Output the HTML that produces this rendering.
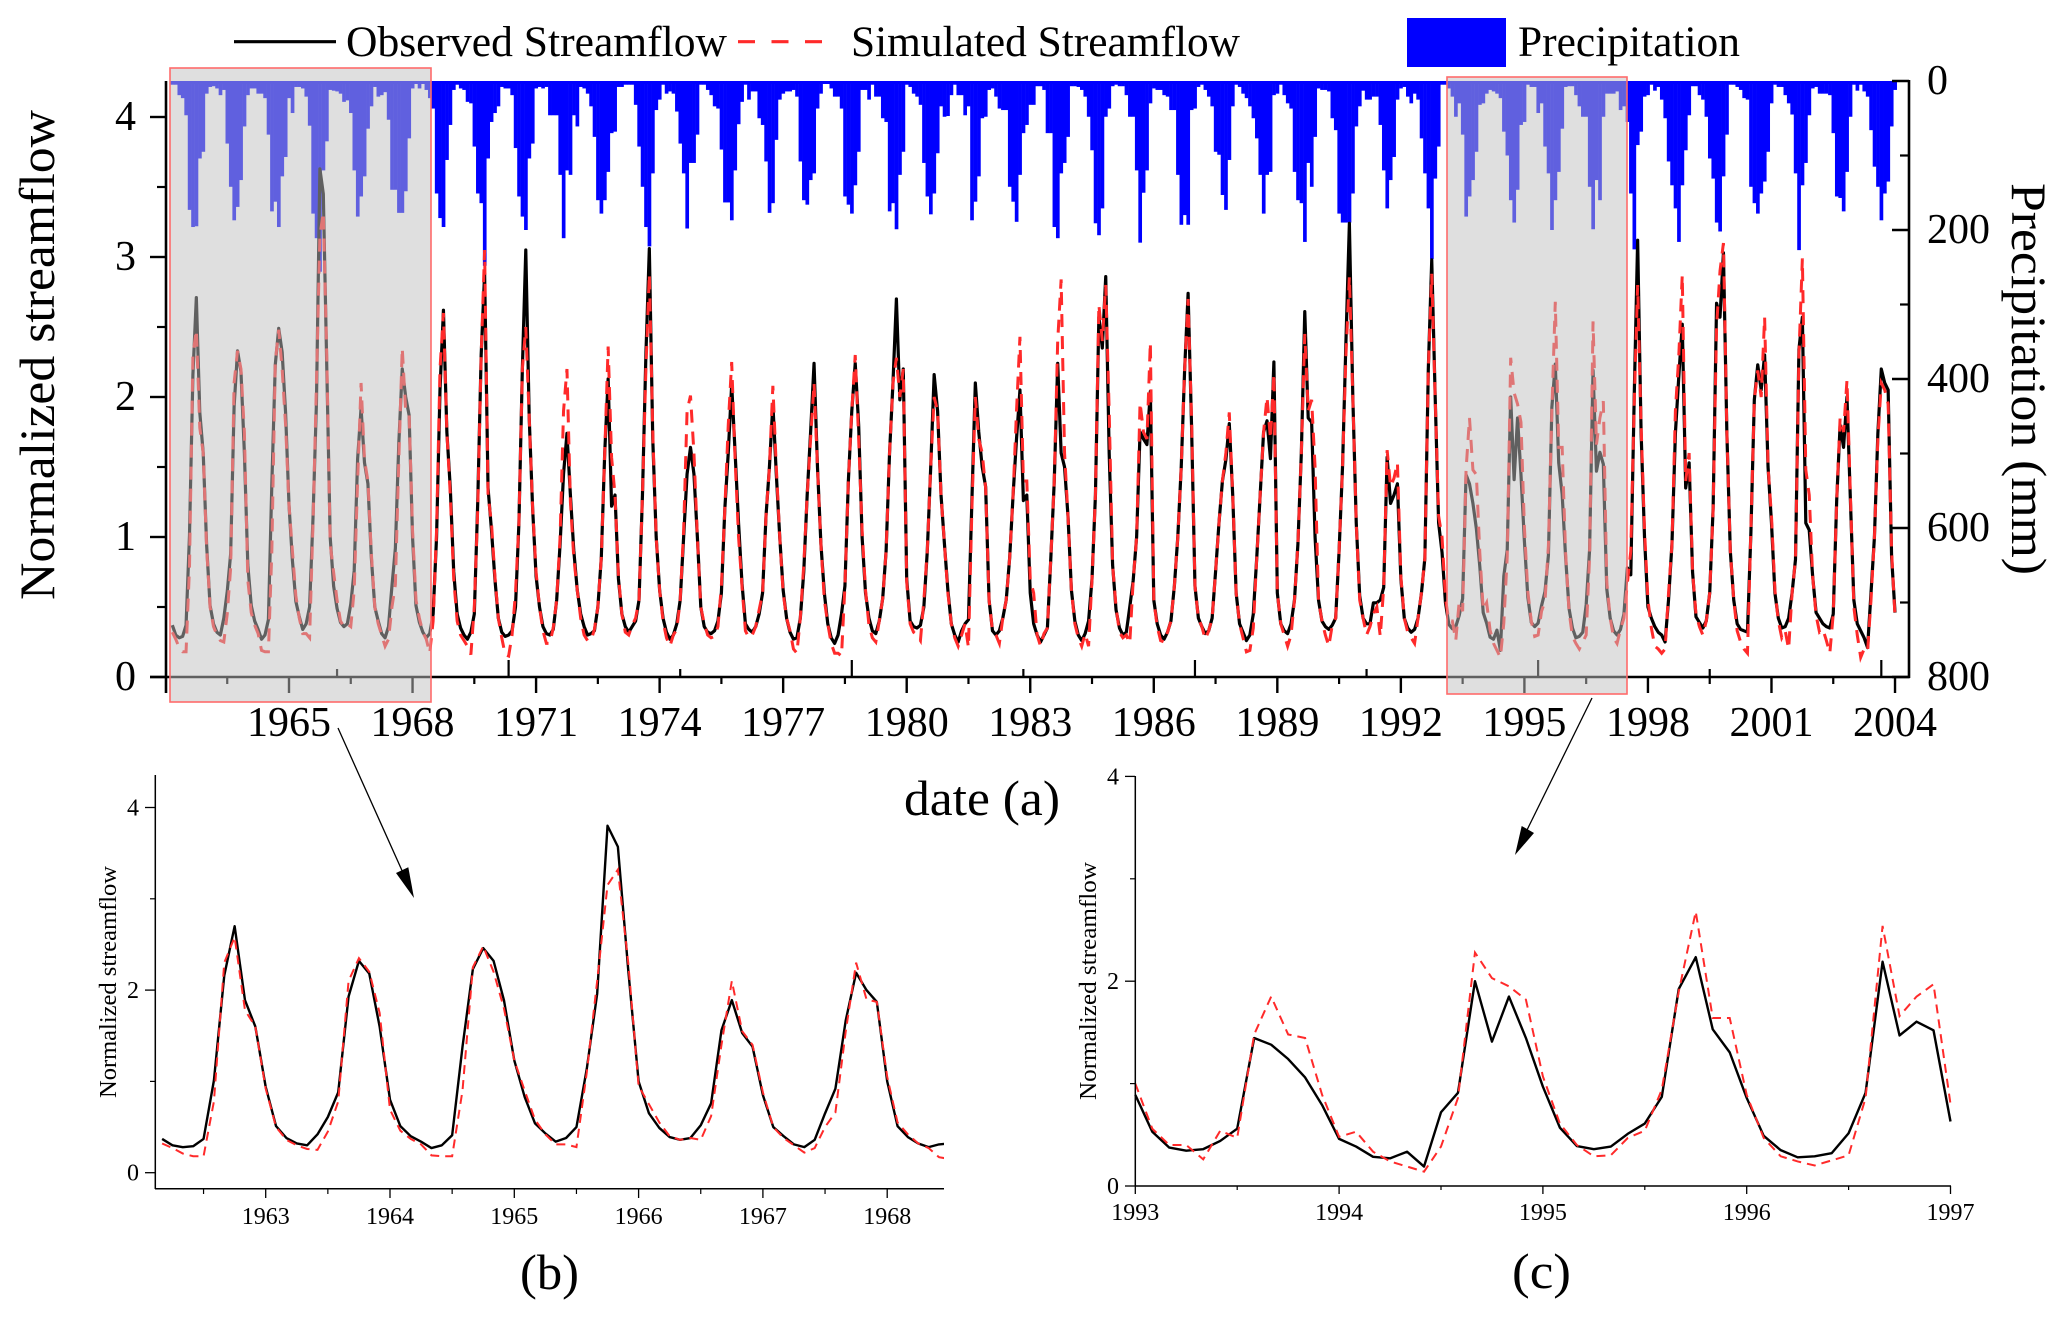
<!DOCTYPE html>
<html lang="en">
<head>
<meta charset="utf-8">
<title>Normalized streamflow and precipitation</title>
<style>
html,body{margin:0;padding:0;background:#fff;}
svg{display:block;font-family:"Liberation Serif","Times New Roman",serif;}
</style>
</head>
<body>
<svg id="figure" xmlns="http://www.w3.org/2000/svg" width="2067" height="1319" viewBox="0 0 2067 1319">
  <rect x="0" y="0" width="2067" height="1319" fill="#fff"/>
  <defs>
    <clipPath id="clipB"><rect x="155" y="775" width="789" height="414"/></clipPath>
  </defs>
  <g id="mainPrecip"></g>
  <g id="mainLines"></g>
  <g id="mainAxes"></g>
  <rect x="170" y="68" width="261" height="634" fill="rgba(192,192,192,.5)" stroke="#ff6b6b" stroke-width="1.6"/>
  <rect x="1447" y="77" width="180" height="617" fill="rgba(192,192,192,.5)" stroke="#ff6b6b" stroke-width="1.6"/>

  <line x1="234" y1="41.7" x2="336" y2="41.7" stroke="#000" stroke-width="3.2"/>
  <text x="346" y="56" font-size="43" textLength="381" lengthAdjust="spacingAndGlyphs">Observed Streamflow</text>
  <line x1="738" y1="41.7" x2="822" y2="41.7" stroke="#ff2a2a" stroke-width="3.2" stroke-dasharray="17 16.5"/>
  <text x="851" y="56" font-size="43" textLength="389" lengthAdjust="spacingAndGlyphs">Simulated Streamflow</text>
  <rect x="1407" y="18" width="99" height="49" fill="#0000ff"/>
  <text x="1518" y="56" font-size="43" textLength="222" lengthAdjust="spacingAndGlyphs">Precipitation</text>

  <text transform="translate(54,600) rotate(-90)" font-size="50" textLength="490" lengthAdjust="spacingAndGlyphs">Normalized streamflow</text>
  <text transform="translate(2012,183) rotate(90)" font-size="50" textLength="392" lengthAdjust="spacingAndGlyphs">Precipitation (mm)</text>
  <text x="904" y="815" font-size="50" textLength="156" lengthAdjust="spacingAndGlyphs">date (a)</text>

  <g>
    <line x1="338" y1="728" x2="404" y2="875" stroke="#000" stroke-width="1.3"/>
    <polygon points="414,898 396,873 408.3,867.3" fill="#000"/>
  </g>
  <g>
    <line x1="1592" y1="698" x2="1527" y2="830" stroke="#000" stroke-width="1.3"/>
    <polygon points="1515,855 1521.7,826 1534,833" fill="#000"/>
  </g>

  <g id="panelB"></g>
  <text transform="translate(116,1098) rotate(-90)" font-size="24" textLength="232" lengthAdjust="spacingAndGlyphs">Normalized streamflow</text>
  <text x="520" y="1289" font-size="50" textLength="59" lengthAdjust="spacingAndGlyphs">(b)</text>

  <g id="panelC"></g>
  <text transform="translate(1096,1100) rotate(-90)" font-size="24" textLength="238" lengthAdjust="spacingAndGlyphs">Normalized streamflow</text>
  <text x="1512" y="1288" font-size="50" textLength="59" lengthAdjust="spacingAndGlyphs">(c)</text>
</svg>
<script>
/* ---------- main chart data: rows are years, Jan..Dec; first row starts March 1962 ---------- */
const firstYear = 1962;
const firstMonth = 2;
const observedRows = [
[.37,.30,.28,.29,.37,1.01,2.16,2.71,1.89,1.60],
[.94,.51,.38,.32,.30,.42,.61,.88,1.93,2.33,2.18,1.60],
[.80,.51,.40,.34,.27,.30,.41,1.38,2.23,2.49,2.32,1.89],
[1.23,.83,.54,.43,.34,.38,.50,1.14,1.96,3.63,3.45,2.22],
[1.0,.65,.49,.39,.36,.38,.52,.76,1.56,1.92,1.53,1.38],
[.85,.50,.40,.31,.28,.36,.65,.92,1.67,2.2,2.0,1.87],
[1.0,.51,.39,.32,.28,.31,.45,1.0,2.05,2.62,1.75,1.35],
[.75,.45,.35,.30,.27,.32,.45,1.25,2.3,2.88,1.35,1.05],
[.7,.42,.32,.29,.30,.33,.5,1.1,2.2,3.05,1.85,1.2],
[.72,.5,.36,.31,.30,.34,.55,.95,1.45,1.74,1.3,.9],
[.62,.45,.36,.30,.31,.33,.5,.85,1.6,2.13,1.22,1.3],
[.7,.45,.36,.32,.36,.4,.55,1.3,2.3,3.06,1.7,1.0],
[.62,.42,.32,.27,.30,.38,.55,1.0,1.45,1.64,1.45,1.0],
[.5,.36,.32,.31,.33,.4,.6,1.2,1.6,2.09,1.6,1.1],
[.67,.38,.34,.32,.36,.45,.6,1.15,1.5,1.95,1.45,1.0],
[.62,.42,.32,.27,.28,.42,.75,1.3,1.75,2.24,1.5,.95],
[.6,.38,.28,.24,.3,.45,.65,1.4,1.9,2.24,1.8,1.0],
[.6,.42,.33,.31,.4,.56,.9,1.6,2.1,2.7,1.98,2.2],
[.7,.4,.36,.35,.37,.5,.9,1.5,2.16,1.9,1.3,.95],
[.62,.38,.3,.25,.33,.38,.41,1.26,2.1,1.75,1.5,1.36],
[.55,.33,.3,.33,.42,.55,.85,1.3,1.7,2.05,1.26,1.3],
[.6,.38,.3,.25,.3,.35,.85,1.4,2.24,1.6,1.5,1.15],
[.62,.4,.3,.26,.31,.4,.7,1.3,2.57,2.35,2.86,1.6],
[.8,.48,.35,.3,.32,.5,.69,1.0,1.75,1.7,1.66,2.04],
[.55,.38,.3,.27,.32,.4,.65,1.0,1.5,2.2,2.74,1.8],
[.65,.42,.36,.31,.33,.42,.75,1.1,1.4,1.55,1.81,1.3],
[.6,.38,.32,.26,.3,.45,.85,1.3,1.75,1.83,1.56,2.25],
[.6,.38,.33,.31,.38,.55,.95,1.6,2.61,1.85,1.82,1.0],
[.55,.4,.36,.34,.37,.42,.9,1.5,2.4,3.24,2.0,1.1],
[.58,.42,.38,.38,.53,.53,.55,.64,1.57,1.24,1.3,1.38],
[.7,.42,.35,.32,.34,.42,.6,.85,2.2,2.98,2.0,1.1],
[.89,.53,.375,.345,.36,.44,.56,1.445,1.38,1.24,1.06,.79],
[.46,.385,.285,.27,.335,.19,.72,.91,2.0,1.41,1.85,1.445],
[.97,.57,.39,.36,.385,.51,.61,.87,1.925,2.235,1.53,1.305],
[.86,.49,.35,.28,.29,.32,.515,.91,2.19,1.47,1.605,1.52],
[.63,.42,.33,.3,.34,.45,.78,.73,2.0,3.12,1.75,1.0],
[.5,.42,.36,.32,.3,.25,.55,.95,1.74,2.15,2.52,1.35],
[1.53,.75,.43,.39,.35,.4,.6,1.21,2.67,2.57,3.03,1.74],
[.9,.55,.38,.34,.33,.32,1.03,1.98,2.23,2.05,2.3,1.5],
[1.1,.6,.42,.35,.36,.42,.6,.84,2.34,2.57,1.1,1.05],
[.72,.46,.42,.38,.36,.35,.45,1.26,1.8,1.64,2.0,1.26],
[.55,.38,.33,.28,.21,.6,1.0,1.74,2.2,2.1,2.05,.86],
[.46]
];
const simulatedRows = [
[.32,.27,.21,.18,.18,.78,2.3,2.48,1.78,1.6],
[.92,.5,.36,.3,.26,.25,.45,.78,2.1,2.33,2.2,1.75],
[.69,.46,.37,.31,.19,.18,.18,.9,2.25,2.48,2.2,1.8],
[1.23,.9,.58,.42,.31,.31,.28,1.1,2.1,3.15,3.32,2.3],
[.95,.75,.55,.4,.36,.38,.36,.62,1.4,2.1,1.55,1.4],
[.88,.5,.38,.3,.22,.27,.5,.66,1.55,2.35,1.9,1.87],
[1.05,.55,.42,.32,.27,.17,.4,1.05,2.2,2.6,1.75,1.3],
[.7,.4,.3,.26,.22,.16,.5,1.2,2.3,3.05,1.3,1.1],
[.72,.42,.28,.16,.15,.3,.6,1.1,2.2,2.5,1.85,1.2],
[.75,.5,.33,.24,.24,.35,.55,1.0,1.9,2.2,1.25,.85],
[.62,.42,.3,.26,.26,.34,.5,.85,1.6,2.36,1.57,1.3],
[.72,.45,.32,.3,.37,.42,.55,1.3,2.2,2.88,1.75,1.0],
[.62,.4,.28,.22,.3,.34,.55,1.05,1.9,2.01,1.6,1.0],
[.5,.38,.3,.28,.29,.36,.65,1.2,1.8,2.25,1.55,1.0],
[.65,.33,.28,.3,.36,.48,.6,1.15,1.5,2.08,1.5,1.0],
[.6,.42,.33,.2,.17,.42,.8,1.3,1.7,2.1,1.5,.95],
[.55,.38,.24,.17,.17,.15,.65,1.4,1.9,2.3,1.7,1.05],
[.62,.37,.28,.25,.4,.56,.9,1.6,2.1,2.28,2.0,2.2],
[.68,.38,.32,.3,.26,.55,.9,1.5,2.0,1.9,1.3,.95],
[.6,.38,.28,.22,.3,.38,.21,1.2,2.0,1.7,1.6,1.35],
[.55,.33,.3,.24,.42,.55,.85,1.3,1.9,2.43,1.4,1.4],
[.7,.6,.3,.22,.31,.35,.85,1.4,2.4,2.84,1.6,1.15],
[.62,.38,.28,.22,.31,.22,.7,1.3,2.66,2.4,2.8,1.9],
[.8,.5,.32,.28,.3,.24,.69,1.0,1.96,1.75,1.7,2.39],
[.55,.36,.26,.25,.32,.4,.65,1.0,1.5,2.2,2.7,1.85],
[.65,.42,.36,.27,.33,.42,.75,1.1,1.4,1.6,1.89,1.3],
[.6,.38,.28,.18,.19,.35,.85,1.3,1.75,2.0,1.7,2.17],
[.6,.38,.3,.22,.3,.55,.95,1.6,2.45,1.9,1.98,1.5],
[.55,.4,.3,.22,.37,.42,.9,1.5,2.3,2.86,2.0,1.1],
[.55,.42,.3,.36,.45,.5,.29,.64,1.62,1.36,1.42,1.53],
[.72,.42,.32,.28,.24,.42,.6,.85,2.2,2.88,2.0,1.15],
[1.0,.56,.4,.4,.26,.54,.47,1.48,1.85,1.48,1.445,.89],
[.48,.53,.335,.24,.19,.14,.385,.86,2.28,2.03,1.95,1.82],
[1.07,.61,.4,.29,.3,.47,.54,.94,1.9,2.68,1.64,1.64],
[.89,.47,.29,.24,.2,.25,.3,.86,2.54,1.66,1.85,1.97],
[.68,.42,.28,.24,.34,.42,.67,.9,1.95,2.8,1.8,1.05],
[.55,.35,.22,.2,.17,.2,.6,.95,1.9,2.3,2.87,1.4],
[1.6,.75,.45,.36,.3,.4,.6,1.2,2.5,2.9,3.1,1.75],
[.9,.55,.33,.25,.2,.17,1.05,1.98,2.19,2.0,2.57,1.5],
[1.15,.62,.4,.28,.33,.2,.6,.84,2.3,2.99,1.48,1.3],
[.72,.44,.32,.34,.26,.17,.45,1.26,1.85,1.75,2.12,1.3],
[.5,.3,.14,.2,.18,.55,1.0,1.7,2.1,2.05,1.95,.9],
[.43]
];
const precipitationRows = [
[5,5,19,23,46,173,196,195,104,95],
[17,8,7,10,19,12,84,142,187,169,133,61],
[19,10,10,17,17,23,72,175,162,196,128,102],
[23,43,8,8,10,21,60,178,211,256,120,81],
[12,13,14,17,28,26,43,120,182,155,128,64],
[34,8,21,19,15,52,146,146,177,177,148,77],
[10,3,10,3,12,23,37,151,184,196,106,59],
[12,5,10,12,28,30,88,151,164,248,104,55],
[43,34,8,10,10,19,90,155,182,200,104,84],
[10,8,10,8,46,46,46,126,211,120,126,46],
[61,8,10,17,34,75,160,178,160,122,70,68],
[8,8,5,5,5,32,88,142,196,222,124,39],
[25,5,17,14,17,41,84,124,198,110,110,72],
[5,5,12,19,34,37,92,163,163,187,120,58],
[28,5,25,14,14,50,59,108,177,164,79,25],
[17,14,14,12,21,108,160,166,133,124,37,17],
[3,3,10,21,21,37,155,166,178,140,95,12],
[12,25,5,21,21,50,55,175,164,199,126,95],
[5,8,17,21,32,110,155,179,151,97,34,48],
[47,19,5,19,19,46,34,187,162,128,50,48],
[12,10,21,37,39,39,142,162,189,126,70,59],
[32,32,7,7,12,70,70,196,211,124,110,75],
[7,7,8,12,21,48,93,191,207,171,48,37],
[7,5,7,7,19,48,48,120,217,150,120,30],
[10,12,12,19,21,39,39,126,193,180,193,39],
[37,8,5,12,21,34,95,99,153,173,106,34],
[5,8,17,23,34,50,77,126,178,126,122,19],
[17,5,19,30,37,122,160,164,216,110,142,75],
[10,12,12,14,50,66,178,190,190,190,151,61],
[34,13,25,25,21,21,59,120,171,133,102,25],
[10,8,21,30,17,25,77,124,171,239,131,88],
[5,5,10,21,48,30,72,182,155,133,95,32],
[30,17,12,14,17,23,68,100,160,190,146,59],
[55,5,8,8,43,30,88,124,200,160,122,64],
[8,7,7,19,34,48,48,142,199,133,160,48],
[17,17,17,14,39,34,55,151,226,86,68,21],
[19,5,13,8,25,50,108,140,171,216,140,93],
[46,7,7,19,25,48,104,131,190,202,128,72],
[5,5,8,12,23,25,142,164,178,151,135,95],
[30,5,8,8,19,30,45,124,227,140,110,46],
[10,8,17,17,17,19,70,155,157,175,122,48],
[5,13,5,14,21,66,115,142,187,151,135,61],
[12]
];
const mainYearTicks = [1965,1968,1971,1974,1977,1980,1983,1986,1989,1992,1995,1998,2001,2004];
const mainMinorYearTicks = [1963.5,1966.5,1969.5,1972.5,1975.5,1978.5,1981.5,1984.5,1987.5,1990.5,1993.5,1996.5,1999.5,2002.5];
const streamflowTicks = [0,1,2,3,4];
const streamflowMinorTicks = [.5,1.5,2.5,3.5];
const precipitationTicks = [0,200,400,600,800];
const precipitationMinorTicks = [100,300,500,700];
const categoryTickYears = [1966.167,1970.333,1974.5,1978.667,1982.833,1987,1991.167,1995.333,1999.5,2003.667];
const categoryTickLong = [0,1,0,1,0,1,0,1,0,1];

/* ---------- panel (b): March 1962 .. July 1968 ---------- */
const panelBStart = 1962 + 2/12;
const panelBObserved = [.37,.30,.28,.29,.37,1.01,2.16,2.70,1.89,1.60,.94,.51,.38,.32,.30,.42,.61,.88,1.93,2.32,2.18,1.60,.80,.51,.40,.34,.27,.30,.41,1.38,2.23,2.46,2.32,1.89,1.23,.83,.54,.43,.34,.38,.50,1.14,1.96,3.80,3.57,2.22,1.0,.65,.49,.39,.36,.38,.52,.76,1.56,1.89,1.53,1.38,.85,.50,.40,.31,.28,.36,.65,.92,1.67,2.19,2.0,1.87,1.0,.51,.39,.32,.28,.31,.32];
const panelBSimulated = [.32,.27,.21,.18,.18,.78,2.3,2.58,1.78,1.6,.92,.5,.36,.3,.26,.25,.45,.78,2.1,2.35,2.2,1.75,.69,.46,.37,.31,.19,.18,.18,.9,2.25,2.48,2.2,1.8,1.23,.9,.58,.42,.31,.31,.28,1.1,2.1,3.15,3.32,2.3,.95,.75,.55,.4,.36,.38,.36,.62,1.4,2.1,1.55,1.4,.88,.5,.38,.3,.22,.27,.5,.66,1.55,2.3,1.9,1.87,1.05,.55,.42,.32,.27,.17,.15];
const panelBYearTicks = [1963,1964,1965,1966,1967,1968];
const panelBMinorTicks = [1962.5,1963.5,1964.5,1965.5,1966.5,1967.5];
const panelBValueTicks = [0,2,4];
const panelBValueMinorTicks = [1,3];

/* ---------- panel (c): January 1993 .. January 1997 ---------- */
const panelCStart = 1993;
const panelCObserved = [.89,.53,.375,.345,.36,.44,.56,1.445,1.38,1.24,1.06,.79,.46,.385,.285,.27,.335,.19,.72,.91,2.0,1.41,1.85,1.445,.97,.57,.39,.36,.385,.51,.61,.87,1.925,2.235,1.53,1.305,.86,.49,.35,.28,.29,.32,.515,.91,2.19,1.47,1.605,1.52,.63];
const panelCSimulated = [1.0,.56,.4,.4,.26,.54,.47,1.48,1.85,1.48,1.445,.89,.48,.53,.335,.24,.19,.14,.385,.86,2.28,2.03,1.95,1.82,1.07,.61,.4,.29,.3,.47,.54,.94,1.9,2.68,1.64,1.64,.89,.47,.29,.24,.2,.25,.3,.86,2.54,1.66,1.85,1.97,.8];
const panelCYearTicks = [1993,1994,1995,1996,1997];
const panelCMinorTicks = [1993.5,1994.5,1995.5,1996.5];
const panelCValueTicks = [0,2,4];
const panelCValueMinorTicks = [1,3];

/* ---------- axis functions ---------- */
const xMain = t => 289 + (t - 1965) * 41.18;
const yMain = v => 677 - 140 * v;
const yPrecip = p => 81 + 0.745 * p;
const xB = t => 265.7 + (t - 1963) * 124.3;
const yB = v => 1172.7 - 91.3 * v;
const xC = t => 1135.3 + (t - 1993) * 203.8;
const yC = v => 1186 - 102.4 * v;

const NS = 'http://www.w3.org/2000/svg';
function mk(parent, tag, attrs, text) {
  const el = document.createElementNS(NS, tag);
  for (const k in attrs) el.setAttribute(k, attrs[k]);
  if (text !== undefined) el.textContent = text;
  parent.appendChild(el);
  return el;
}
function seriesFromRows(rows) {
  const pts = [];
  rows.forEach((row, r) => {
    const offset = r === 0 ? firstMonth : 0;
    row.forEach((v, i) => pts.push({t: firstYear + r + (i + offset) / 12, v: v}));
  });
  return pts;
}
function seriesFromFlat(start, values) {
  return values.map((v, i) => ({t: start + i / 12, v: v}));
}
function pathOf(points, xs, ys) {
  return points.map((p, i) => (i ? 'L' : 'M') + xs(p.t).toFixed(2) + ' ' + ys(p.v).toFixed(2)).join(' ');
}
function tickLine(parent, x1, y1, x2, y2, w) {
  const el = mk(parent, 'line', {x1: x1, y1: y1, x2: x2, y2: y2, stroke: '#000', 'stroke-width': w});
  
  
  return el;
}
function label(parent, x, y, size, anchor, str) {
  const el = mk(parent, 'text', {x: x, y: y, 'font-size': size, 'text-anchor': anchor}, str);
  
  
  return el;
}

/* ---------- main chart ---------- */
const gPrecip = document.getElementById('mainPrecip');
const monthWidth = 41.18 / 12;
seriesFromRows(precipitationRows).forEach(p => {
  const bar = mk(gPrecip, 'rect', {
    x: (xMain(p.t) - monthWidth / 2).toFixed(2),
    y: yPrecip(0),
    width: (monthWidth + 0.25).toFixed(2),
    height: (yPrecip(p.v) - yPrecip(0)).toFixed(2),
    fill: '#0000ff'
  });
  
  
});
const topBand = mk(gPrecip, 'rect', {x: xMain(firstYear + firstMonth / 12) - monthWidth / 2, y: 81, width: xMain(2004) - xMain(firstYear + firstMonth / 12) + monthWidth, height: 3, fill: '#0000ff'});



const gLines = document.getElementById('mainLines');
const obsPath = mk(gLines, 'path', {d: pathOf(seriesFromRows(observedRows), xMain, yMain), fill: 'none', stroke: '#000', 'stroke-width': 3.2, 'stroke-linejoin': 'round'});


const simPath = mk(gLines, 'path', {d: pathOf(seriesFromRows(simulatedRows), xMain, yMain), fill: 'none', stroke: '#ff2a2a', 'stroke-width': 3, 'stroke-dasharray': '13 9'});



const gAxes = document.getElementById('mainAxes');
const leftAxis = mk(gAxes, 'line', {x1: 166, y1: 81, x2: 166, y2: 693, stroke: '#000', 'stroke-width': 2.6});


const rightAxis = mk(gAxes, 'line', {x1: 1909, y1: 80, x2: 1909, y2: 678, stroke: '#000', 'stroke-width': 2.6});


const bottomAxis = mk(gAxes, 'line', {x1: 150, y1: 677, x2: 1910, y2: 677, stroke: '#000', 'stroke-width': 2.6});


streamflowTicks.forEach(v => {
  tickLine(gAxes, 150, yMain(v), 166, yMain(v), 2.4);
  label(gAxes, 136, yMain(v) + 13, 42, 'end', String(v));
});
streamflowMinorTicks.forEach(v => tickLine(gAxes, 157, yMain(v), 166, yMain(v), 2.2));
precipitationTicks.forEach(p => {
  tickLine(gAxes, 1892, yPrecip(p), 1909, yPrecip(p), 2.4);
  label(gAxes, 1927, yPrecip(p) + 13, 42, 'start', String(p));
});
precipitationMinorTicks.forEach(p => tickLine(gAxes, 1900, yPrecip(p), 1909, yPrecip(p), 2.2));
mainYearTicks.forEach(y => {
  tickLine(gAxes, xMain(y), 677, xMain(y), 693, 2.4);
  label(gAxes, xMain(y), 736, 42, 'middle', String(y));
});
mainMinorYearTicks.forEach(y => tickLine(gAxes, xMain(y), 677, xMain(y), 684, 2.2));
categoryTickYears.forEach((y, i) => tickLine(gAxes, xMain(y), categoryTickLong[i] ? 660 : 669, xMain(y), 677, 2.2));

/* ---------- panel b ---------- */
const gB = document.getElementById('panelB');
const bClip = mk(gB, 'g', {'clip-path': 'url(#clipB)'});


const bObs = mk(bClip, 'path', {d: pathOf(seriesFromFlat(panelBStart, panelBObserved), xB, yB), fill: 'none', stroke: '#000', 'stroke-width': 2.4, 'stroke-linejoin': 'round'});


const bSim = mk(bClip, 'path', {d: pathOf(seriesFromFlat(panelBStart, panelBSimulated), xB, yB), fill: 'none', stroke: '#ff2a2a', 'stroke-width': 2, 'stroke-dasharray': '9 6'});


const bLeft = mk(gB, 'line', {x1: 155.3, y1: 775, x2: 155.3, y2: 1189, stroke: '#000', 'stroke-width': 1.5});


const bBottom = mk(gB, 'line', {x1: 155, y1: 1188.7, x2: 944, y2: 1188.7, stroke: '#000', 'stroke-width': 1.5});


panelBValueTicks.forEach(v => {
  tickLine(gB, 145, yB(v), 155, yB(v), 1.3);
  label(gB, 139, yB(v) + 8, 24, 'end', String(v));
});
panelBValueMinorTicks.forEach(v => tickLine(gB, 150, yB(v), 155, yB(v), 1.2));
panelBYearTicks.forEach(y => {
  tickLine(gB, xB(y), 1188.7, xB(y), 1198, 1.3);
  label(gB, xB(y), 1224, 24, 'middle', String(y));
});
panelBMinorTicks.forEach(y => tickLine(gB, xB(y), 1188.7, xB(y), 1194, 1.2));

/* ---------- panel c ---------- */
const gC = document.getElementById('panelC');
const cObs = mk(gC, 'path', {d: pathOf(seriesFromFlat(panelCStart, panelCObserved), xC, yC), fill: 'none', stroke: '#000', 'stroke-width': 2.4, 'stroke-linejoin': 'round'});


const cSim = mk(gC, 'path', {d: pathOf(seriesFromFlat(panelCStart, panelCSimulated), xC, yC), fill: 'none', stroke: '#ff2a2a', 'stroke-width': 2, 'stroke-dasharray': '9 6'});


const cLeft = mk(gC, 'line', {x1: 1135.3, y1: 776, x2: 1135.3, y2: 1186, stroke: '#000', 'stroke-width': 1.5});


const cBottom = mk(gC, 'line', {x1: 1135, y1: 1186, x2: 1951, y2: 1186, stroke: '#000', 'stroke-width': 1.5});


panelCValueTicks.forEach(v => {
  tickLine(gC, 1125, yC(v), 1135, yC(v), 1.3);
  label(gC, 1119, yC(v) + 8, 24, 'end', String(v));
});
panelCValueMinorTicks.forEach(v => tickLine(gC, 1130, yC(v), 1135, yC(v), 1.2));
panelCYearTicks.forEach(y => {
  tickLine(gC, xC(y), 1186, xC(y), 1194, 1.3);
  label(gC, xC(y), 1220, 24, 'middle', String(y));
});
panelCMinorTicks.forEach(y => tickLine(gC, xC(y), 1186, xC(y), 1190, 1.2));
</script>
</body>
</html>
